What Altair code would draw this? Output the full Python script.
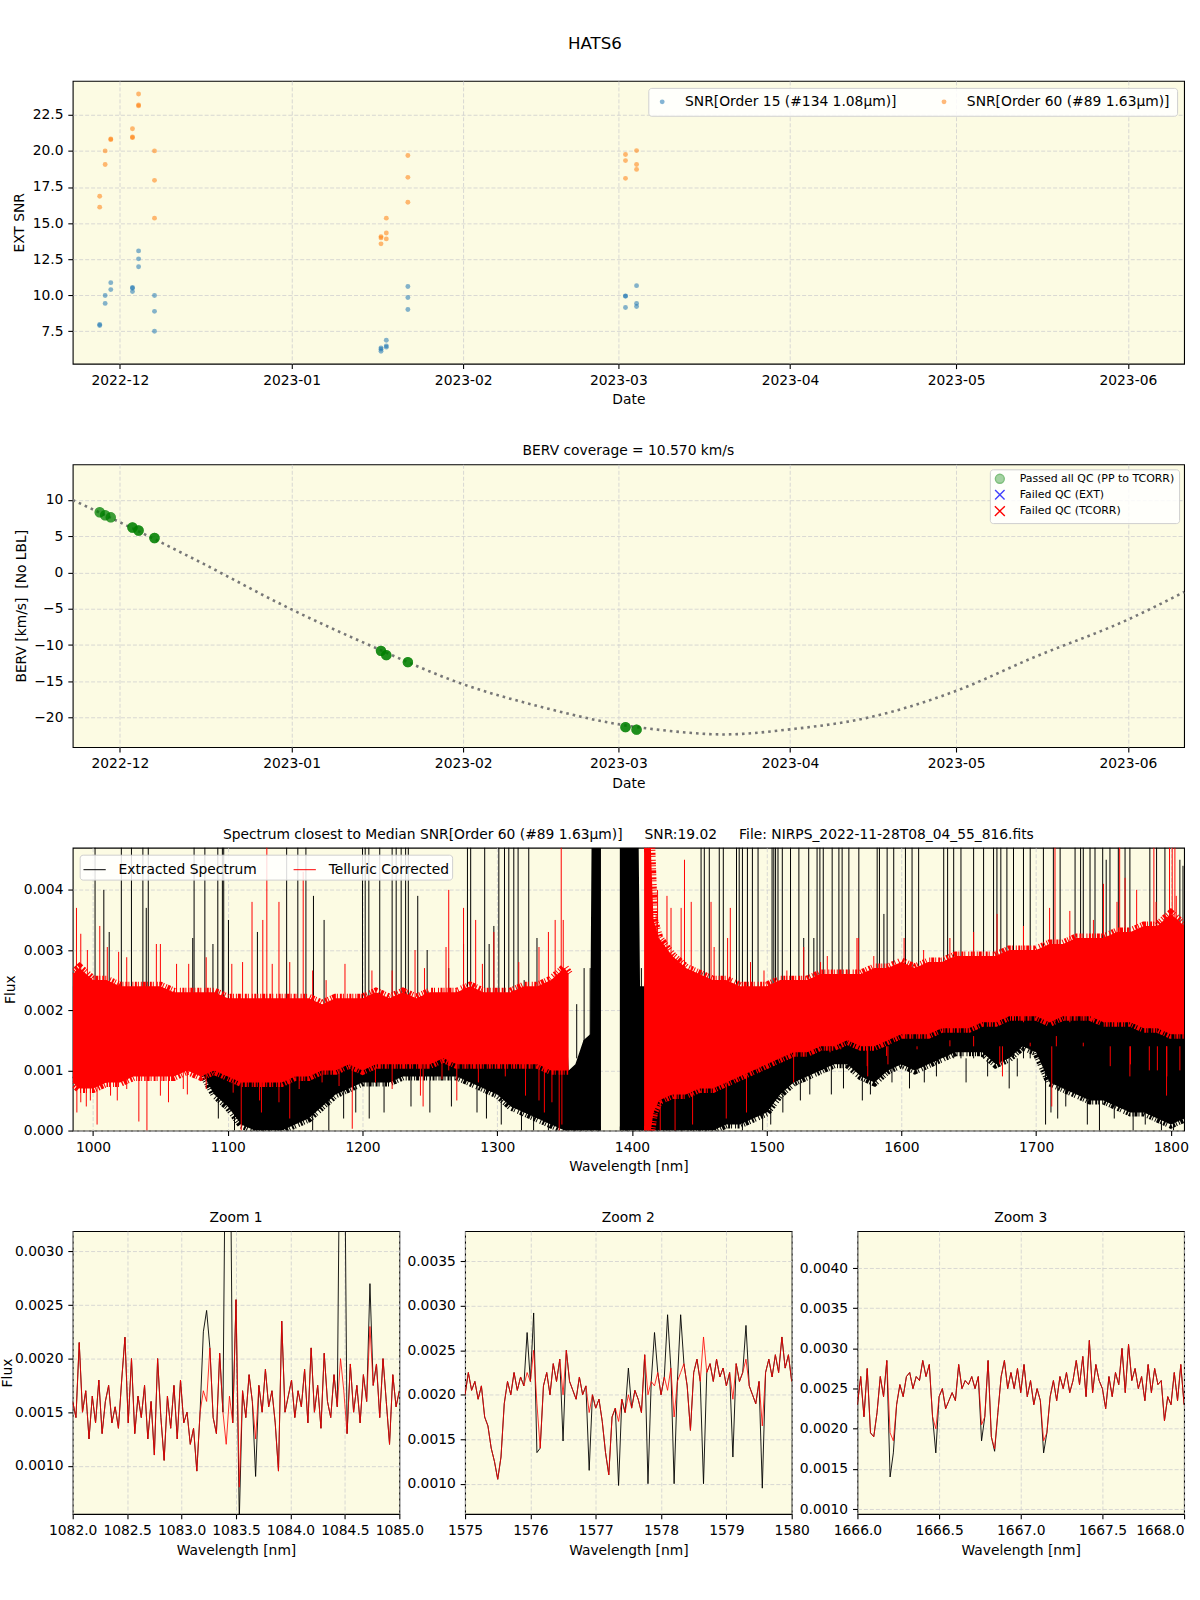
import altair as alt
import pandas as pd
import numpy as np

FONT = "DejaVu Sans"
BG = "#fcfbe3"
TOP = 0.005  # values above the axis top (clipped)
NB = "\u00a0"

# ---------------- Panel 1 / 2 : observations ----------------
obs_dates = (
    ["2022-11-27T08:30:00Z"] * 2 + ["2022-11-28T08:05:00Z"] * 2 + ["2022-11-29T08:30:00Z"] * 2
    + ["2022-12-03T06:30:00Z"] * 3 + ["2022-12-04T09:00:00Z"] * 3 + ["2022-12-07T06:00:00Z"] * 3
    + ["2023-01-17T03:30:00Z"] * 3 + ["2023-01-18T02:30:00Z"] * 3 + ["2023-01-22T00:00:00Z"] * 3
    + ["2023-03-02T07:00:00Z"] * 3 + ["2023-03-04T07:00:00Z"] * 3
)
snr_order15 = [7.97, 7.90, 9.98, 9.43, 10.87, 10.39,
               10.53, 10.48, 10.25, 13.07, 12.52, 11.97, 9.98, 8.88, 7.50,
               6.35, 6.26, 6.12, 6.88, 6.49, 6.40, 10.60, 9.84, 9.01,
               9.95, 9.93, 9.15, 10.66, 9.43, 9.22]
snr_order60 = [16.86, 16.10, 20.00, 19.06, 20.83, 20.78,
               21.54, 20.96, 20.92, 23.94, 23.19, 23.12, 20.00, 17.96, 15.34,
               14.06, 13.97, 13.56, 15.34, 14.31, 13.90, 19.68, 18.17, 16.44,
               19.75, 19.33, 18.10, 20.02, 19.06, 18.72]
berv_obs = [8.27, 8.27, 7.86, 7.86, 7.58, 7.58,
            6.17, 6.17, 6.17, 5.76, 5.76, 5.76, 4.73, 4.73, 4.73,
            -10.80, -10.80, -10.80, -11.39, -11.39, -11.39, -12.35, -12.35, -12.35,
            -21.30, -21.30, -21.30, -21.64, -21.64, -21.64]

berv_curve_dates = ["2022-11-22T12:00:00Z", "2022-12-01T00:00:00Z", "2022-12-15T00:00:00Z",
                    "2023-01-01T00:00:00Z", "2023-01-15T00:00:00Z", "2023-02-01T00:00:00Z",
                    "2023-02-15T00:00:00Z", "2023-03-01T00:00:00Z", "2023-03-10T00:00:00Z",
                    "2023-03-20T00:00:00Z", "2023-04-01T00:00:00Z", "2023-04-15T00:00:00Z",
                    "2023-05-01T00:00:00Z", "2023-05-15T00:00:00Z", "2023-06-01T00:00:00Z",
                    "2023-06-11T04:00:00Z"]
berv_curve = [9.95, 6.9, 1.6, -5.1, -10.0, -15.4, -18.5, -20.9, -21.8,
              -22.3, -21.6, -20.0, -16.3, -11.7, -6.5, -2.7]

LABEL15 = "SNR[Order 15 (#134 1.08μm)]"
LABEL60 = "SNR[Order 60 (#89 1.63μm)]"
QC_LABELS = ["Passed all QC (PP to TCORR)", "Failed QC (EXT)", "Failed QC (TCORR)"]

# ---------------- Panel 3 : full spectrum (envelopes) ----------------
red_wl_a = [985, 990, 1000, 1010, 1020, 1030, 1040, 1050, 1060, 1070, 1080, 1090, 1100, 1110, 1120,
            1130, 1140, 1150, 1160, 1170, 1180, 1190, 1200, 1210, 1220, 1230, 1240, 1250, 1260, 1270,
            1280, 1290, 1300, 1310, 1320, 1330, 1340, 1350, 1353]
red_lo_a = [0.0008, 0.0007, 0.0007, 0.0008, 0.0008, 0.0009, 0.0009, 0.0009, 0.0009, 0.0010, 0.0009,
            0.0010, 0.0009, 0.0008, 0.0008, 0.0008, 0.0008, 0.0009, 0.0009, 0.0010, 0.0010, 0.0011,
            0.0010, 0.0011, 0.0011, 0.0011, 0.0011, 0.0011, 0.0012, 0.0011, 0.0011, 0.0011, 0.0011,
            0.0011, 0.0011, 0.0011, 0.0010, 0.0010, 0.0010]
red_hi_a = [0.0026, 0.0027, 0.0025, 0.0025, 0.0024, 0.0024, 0.0024, 0.0024, 0.0023, 0.0023, 0.0023,
            0.0023, 0.0022, 0.0022, 0.0022, 0.0022, 0.0022, 0.0022, 0.0022, 0.0021, 0.0022, 0.0022,
            0.0022, 0.0023, 0.0022, 0.0023, 0.0022, 0.0023, 0.0023, 0.0023, 0.0024, 0.0023, 0.0023,
            0.0023, 0.0024, 0.0024, 0.0025, 0.0027, 0.0026]
red_wl_b = [1409, 1414, 1416, 1420, 1430, 1440, 1450, 1460, 1470, 1480, 1490, 1500, 1510, 1520, 1530,
            1540, 1550, 1560, 1570, 1580, 1590, 1600, 1610, 1620, 1630, 1640, 1650, 1660, 1670, 1680,
            1690, 1700, 1710, 1720, 1730, 1740, 1750, 1760, 1770, 1780, 1790, 1800, 1810]
red_lo_b = [0.0, 0.0, 0.0003, 0.0005, 0.0006, 0.0006, 0.0007, 0.0007, 0.0008, 0.0009, 0.0010, 0.0011,
            0.0012, 0.0013, 0.0013, 0.0014, 0.0014, 0.0015, 0.0014, 0.0014, 0.0015, 0.0016, 0.0016,
            0.0016, 0.0017, 0.0017, 0.0017, 0.0018, 0.0018, 0.0019, 0.0019, 0.0019, 0.0018, 0.0019,
            0.0019, 0.0019, 0.0018, 0.0018, 0.0018, 0.0017, 0.0017, 0.0016, 0.0016]
red_hi_b = [0.0047, 0.0047, 0.0035, 0.0032, 0.0029, 0.0027, 0.0026, 0.0025, 0.0025, 0.0024, 0.0024,
            0.0024, 0.0025, 0.0025, 0.0025, 0.0026, 0.0026, 0.0026, 0.0026, 0.0027, 0.0027, 0.0028,
            0.0027, 0.0028, 0.0028, 0.0029, 0.0029, 0.0029, 0.0029, 0.0030, 0.0030, 0.0030, 0.0031,
            0.0031, 0.0032, 0.0032, 0.0032, 0.0033, 0.0033, 0.0034, 0.0034, 0.0036, 0.0034]

black_wl_a = red_wl_a + [1358, 1364, 1369, 1370, 1377]
black_lo_a = [0.0009, 0.0008, 0.0008, 0.0009, 0.0009, 0.0010, 0.0010, 0.0010, 0.0010, 0.0011, 0.0010,
              0.0006, 0.0004, 0.0001, 0.0, 0.0, 0.0, 0.0001, 0.0002, 0.0004, 0.0006, 0.0007, 0.0008,
              0.0008, 0.0008, 0.0009, 0.0009, 0.0009, 0.0009, 0.0009, 0.0008, 0.0007, 0.0006, 0.0004,
              0.0003, 0.0002, 0.0001, 0.0, 0.0,
              0.0, 0.0, 0.0, 0.0, 0.0]
black_hi_a = [0.0024, 0.0025, 0.0023, 0.0023, 0.0022, 0.0022, 0.0022, 0.0022, 0.0021, 0.0021, 0.0021,
              0.0021, 0.0020, 0.0020, 0.0020, 0.0020, 0.0020, 0.0020, 0.0020, 0.0019, 0.0020, 0.0020,
              0.0020, 0.0021, 0.0020, 0.0021, 0.0020, 0.0021, 0.0021, 0.0021, 0.0022, 0.0021, 0.0021,
              0.0021, 0.0022, 0.0022, 0.0023, 0.0025, 0.0010,
              0.0011, 0.0015, 0.0016, 0.0047, 0.0047]
black_wl_b = [1391, 1405, 1406, 1409, 1414, 1420, 1430, 1440, 1450, 1460, 1470, 1480, 1490, 1500, 1510,
              1520, 1530, 1540, 1550, 1560, 1570, 1580, 1590, 1600, 1610, 1620, 1630, 1640, 1650, 1660,
              1670, 1680, 1690, 1700, 1710, 1720, 1730, 1740, 1750, 1760, 1770, 1780, 1790, 1800, 1810]
black_lo_b = [0.0, 0.0, 0.0, 0.0, 0.0, 0.0, 0.0, 0.0, 0.0, 0.0, 0.0001, 0.0001, 0.0002, 0.0003, 0.0006,
              0.0008, 0.0009, 0.0010, 0.0011, 0.0011, 0.0009, 0.0008, 0.0010, 0.0011, 0.0010, 0.0011,
              0.0012, 0.0013, 0.0013, 0.0013, 0.0011, 0.0012, 0.0014, 0.0013, 0.0008, 0.0007, 0.0006,
              0.0005, 0.0005, 0.0004, 0.0003, 0.0003, 0.0002, 0.0001, 0.0002]
black_hi_b = [0.0047, 0.0047, 0.0024, 0.0024, 0.0030, 0.0030, 0.0027, 0.0025, 0.0024, 0.0023, 0.0023,
              0.0022, 0.0022, 0.0022, 0.0023, 0.0023, 0.0023, 0.0024, 0.0024, 0.0024, 0.0024, 0.0025,
              0.0025, 0.0026, 0.0025, 0.0026, 0.0026, 0.0027, 0.0027, 0.0027, 0.0027, 0.0028, 0.0028,
              0.0028, 0.0029, 0.0029, 0.0030, 0.0030, 0.0030, 0.0031, 0.0031, 0.0032, 0.0032, 0.0034,
              0.0032]

black_spike_wl = [1001.5, 1008, 1012, 1021, 1028.5, 1037, 1039.5, 1041, 1074, 1075, 1083, 1089, 1092.6,
                  1096, 1097, 1100.5, 1122, 1143.7, 1152, 1158, 1163.6, 1171.5, 1200, 1202, 1204.7,
                  1212.8, 1222, 1225, 1228.7, 1232, 1234, 1241, 1248, 1264, 1275, 1277.9, 1280.3,
                  1290.7, 1294, 1297.5, 1301.2, 1305.4, 1308.6, 1312.3, 1315.5, 1320, 1323.4, 1329.5,
                  1359, 1364.5, 1369, 1407, 1451.3, 1453.7, 1457.4, 1464.8, 1467.8, 1477.6, 1479.6,
                  1482, 1485.7, 1489.4, 1493.6, 1504, 1505.3, 1506.6, 1508.4, 1511.6, 1517.7, 1523.9,
                  1527.5, 1531.2, 1535, 1537.4, 1539.5, 1542, 1548.6, 1553.6, 1556, 1561, 1568.4, 1582,
                  1583.7, 1587, 1589.4, 1594.3, 1603, 1607.9, 1612.8, 1631.4, 1634.3, 1638.8, 1644.2,
                  1653.6, 1661, 1668.4, 1670.9, 1673.8, 1678.3, 1683.2, 1690.6, 1695.6, 1705.4, 1712.8,
                  1717.8, 1728.9, 1733, 1735, 1740, 1743.7, 1749.4, 1752, 1754.8, 1761, 1766, 1769.6,
                  1784.4, 1789.4, 1795.6, 1806.7, 1809]
black_spike_top = [TOP, 0.0040, 0.0033, TOP, TOP, TOP, 0.0037, TOP, 0.0032, TOP, TOP, 0.0031, TOP,
                   TOP, TOP, 0.0035, 0.0033, TOP, TOP, TOP, 0.0039, 0.0035, TOP, TOP, TOP,
                   TOP, TOP, TOP, TOP, TOP, TOP, 0.0039, 0.0030, 0.0027, 0.0031, TOP, TOP,
                   TOP, 0.0031, 0.0034, TOP, TOP, TOP, TOP, TOP, 0.0025, TOP, 0.0032,
                   0.0021, 0.0027, 0.0027, 0.0027, TOP, TOP, TOP, TOP, TOP, TOP, TOP,
                   TOP, TOP, TOP, TOP, TOP, TOP, TOP, TOP, TOP, TOP, TOP,
                   0.0032, TOP, 0.0032, TOP, TOP, TOP, TOP, TOP, TOP, TOP, TOP, TOP,
                   TOP, 0.0036, TOP, TOP, TOP, TOP, TOP, TOP, TOP, TOP, TOP,
                   TOP, TOP, TOP, TOP, TOP, TOP, TOP, TOP, TOP, TOP, TOP,
                   TOP, TOP, TOP, TOP, TOP, TOP, TOP, 0.0045, TOP, TOP, TOP, TOP,
                   TOP, TOP, TOP, 0.0045, 0.0044]
black_dip_wl = [1093, 1105, 1163, 1175, 1186, 1195, 1205, 1216, 1236, 1250, 1266, 1285, 1292, 1303, 1318,
                1327, 1338, 1482, 1497, 1503, 1512, 1525, 1532, 1548, 1557, 1571, 1577, 1593, 1606, 1617,
                1626, 1648, 1664, 1680, 1686, 1707, 1711, 1716, 1722, 1738, 1747, 1758, 1772, 1781, 1793,
                1802]
black_dip_low = [0.0002, 0.0, 0.0, 0.0, 0.0002, 0.0003, 0.0002, 0.0003, 0.0004, 0.0003, 0.0004, 0.0003,
                 0.0002, 0.0001, 0.0, 0.0, 0.0, 0.0, 0.0, 0.0001, 0.0003, 0.0005, 0.0006, 0.0006, 0.0007,
                 0.0005, 0.0006, 0.0008, 0.0007, 0.0008, 0.0009, 0.0008, 0.0009, 0.0007, 0.0009, 0.0001,
                 0.0003, 0.0002, 0.0004, 0.0001, 0.0, 0.0002, 0.0, 0.0001, 0.0, 0.0]
red_up_wl = [987.7, 1005, 1050, 1118, 1126, 1129, 1138, 1156, 1264, 1275, 1284, 1343, 1347.5, 1349,
             1418, 1426, 1429, 1439, 1444, 1458.7, 1473, 1567, 1714, 1750, 1762, 1766, 1787.4, 1799,
             1801, 1803]
red_up_top = [0.0037, 0.0034, 0.0031, 0.0038, 0.0035, TOP, 0.0038, 0.0043, 0.0040, 0.0037, 0.0035,
              0.0035, TOP, 0.0035, 0.0036, 0.0039, 0.0037, 0.0045, 0.0038, 0.0038, 0.0037, 0.0032,
              TOP, 0.0041, TOP, 0.0042, TOP, TOP, TOP, TOP]
red_fuzz_up_wl = [990.9, 995.8, 1010.6, 1019, 1025, 1047, 1062, 1071, 1084, 1103, 1111, 1133, 1146,
                  1163, 1173, 1187, 1207, 1222, 1239, 1246, 1262, 1289, 1297.5, 1316, 1331, 1338,
                  1419, 1436.5, 1461, 1471, 1488, 1498, 1515, 1527.5, 1540, 1545, 1568, 1579.5, 1602,
                  1616.5, 1636, 1653.6, 1671, 1690.6, 1710, 1725, 1742.5, 1760, 1774.6, 1789, 1804]
red_fuzz_up_top = [0.00327, 0.0030, 0.00305, 0.00297, 0.00288, 0.0031, 0.00277, 0.00277, 0.00288,
                   0.00277, 0.0028, 0.00277, 0.0028, 0.00266, 0.0025, 0.00277, 0.00266, 0.00266,
                   0.0030, 0.0027, 0.00305, 0.00277, 0.0033, 0.0028, 0.00305, 0.0033,
                   0.0040, 0.0037, 0.00305, 0.0032, 0.0028, 0.00266, 0.00266, 0.00305, 0.0028,
                   0.0029, 0.0032, 0.0029, 0.0032, 0.0030, 0.0032, 0.0033, 0.0036, 0.0034, 0.0037,
                   0.00365, 0.0035, 0.0038, 0.0040, 0.0038, 0.0039]
red_dip_wl = [988, 995, 1003, 1018, 1034, 1040, 1056, 1070, 1110, 1125, 1146, 1192.4, 1245, 1270, 1335,
              1346, 1348, 1421, 1432, 1445, 1470, 1485, 1520, 1575, 1590, 1675, 1711.6, 1770, 1790, 1797]
red_dip_low = [0.0003, 0.0004, 0.0001, 0.0005, 0.00015, 0.0, 0.00047, 0.0006, 0.0, 0.0003, 0.0002,
               0.00003, 0.0004, 0.0005, 0.0003, 0.0, 0.0001, 0.0, 0.0, 0.0001, 0.0002, 0.0003, 0.0008,
               0.0009, 0.0011, 0.0009, 0.0004, 0.0011, 0.0010, 0.0009]
red_fuzz_dn_wl = [990.9, 998, 1013, 1025, 1050, 1067, 1084, 1104, 1123.6, 1138, 1153, 1170, 1182.6,
                  1209.6, 1222, 1243, 1259, 1264, 1286, 1306, 1321, 1331, 1340.6, 1547, 1555, 1574.6,
                  1589, 1611.6, 1636, 1653.6, 1673, 1695.6, 1715, 1735, 1755, 1769.6, 1784, 1796.8, 1806.7]
red_fuzz_dn_low = [0.00047, 0.0005, 0.00058, 0.00069, 0.00058, 0.00069, 0.00069, 0.00063, 0.0005,
                   0.00047, 0.00069, 0.0008, 0.00074, 0.0008, 0.00069, 0.00058, 0.00085, 0.0010, 0.0008,
                   0.0009, 0.00058, 0.0005, 0.00047, 0.0013, 0.00135, 0.00107, 0.00124, 0.00135, 0.0015,
                   0.00157, 0.0011, 0.00146, 0.00157, 0.00146, 0.00107, 0.0009, 0.0010, 0.00058, 0.0010]
SPIKE_BASE = 0.0012
DIP_BASE = 0.0014

# ---------------- Zoom panels ----------------
zoom1_range = (1082.0, 1085.0, 101)
zoom1_red = [0.00160, 0.00145, 0.00215, 0.00150, 0.00170, 0.00125, 0.00165, 0.00140, 0.00180, 0.00130,
             0.00160, 0.00175, 0.00140, 0.00155, 0.00135, 0.00180, 0.00220, 0.00140, 0.00200, 0.00130,
             0.00165, 0.00145, 0.00175, 0.00125, 0.00160, 0.00110, 0.00200, 0.00145, 0.00105, 0.00165,
             0.00135, 0.00175, 0.00125, 0.00180, 0.00140, 0.00150, 0.00120, 0.00135, 0.00095, 0.00150,
             0.00170, 0.00160, 0.00210, 0.00145, 0.00130, 0.00205, 0.00150, 0.00120, 0.00165, 0.00140,
             0.00255, 0.00080, 0.00170, 0.00145, 0.00185, 0.00160, 0.00125, 0.00175, 0.00150, 0.00190,
             0.00155, 0.00170, 0.00140, 0.00095, 0.00235, 0.00150, 0.00165, 0.00180, 0.00145, 0.00170,
             0.00155, 0.00190, 0.00140, 0.00210, 0.00150, 0.00175, 0.00135, 0.00205, 0.00160, 0.00145,
             0.00185, 0.00155, 0.00200, 0.00170, 0.00130, 0.00195, 0.00150, 0.00175, 0.00140, 0.00185,
             0.00160, 0.00230, 0.00175, 0.00195, 0.00145, 0.00200, 0.00160, 0.00120, 0.00185, 0.00155,
             0.00170]
zoom1_black = [0.00160, 0.00145, 0.00215, 0.00150, 0.00170, 0.00125, 0.00165, 0.00140, 0.00180, 0.00130,
               0.00160, 0.00175, 0.00140, 0.00155, 0.00135, 0.00180, 0.00220, 0.00140, 0.00200, 0.00130,
               0.00165, 0.00145, 0.00175, 0.00125, 0.00160, 0.00110, 0.00200, 0.00145, 0.00105, 0.00165,
               0.00135, 0.00175, 0.00125, 0.00180, 0.00140, 0.00150, 0.00120, 0.00135, 0.00095, 0.00150,
               0.00225, 0.00245, 0.00210, 0.00145, 0.00130, 0.00205, 0.00150, 0.00500, 0.00500, 0.00140,
               0.00255, 0.00050, 0.00170, 0.00145, 0.00185, 0.00160, 0.00090, 0.00175, 0.00150, 0.00190,
               0.00155, 0.00170, 0.00140, 0.00095, 0.00235, 0.00150, 0.00165, 0.00180, 0.00145, 0.00170,
               0.00155, 0.00190, 0.00140, 0.00210, 0.00150, 0.00175, 0.00135, 0.00205, 0.00160, 0.00145,
               0.00185, 0.00155, 0.00500, 0.00500, 0.00130, 0.00195, 0.00150, 0.00175, 0.00140, 0.00185,
               0.00160, 0.00270, 0.00175, 0.00195, 0.00145, 0.00200, 0.00160, 0.00120, 0.00185, 0.00155,
               0.00170]
zoom2_range = (1575.0, 1580.0, 101)
zoom2_red = [0.00200, 0.00225, 0.00205, 0.00215, 0.00195, 0.00210, 0.00175, 0.00165, 0.00140, 0.00125,
             0.00105, 0.00130, 0.00190, 0.00215, 0.00200, 0.00225, 0.00205, 0.00220, 0.00210, 0.00225,
             0.00215, 0.00250, 0.00190, 0.00140, 0.00210, 0.00225, 0.00200, 0.00235, 0.00215, 0.00240,
             0.00200, 0.00250, 0.00215, 0.00205, 0.00195, 0.00220, 0.00200, 0.00210, 0.00180, 0.00200,
             0.00185, 0.00195, 0.00170, 0.00135, 0.00110, 0.00175, 0.00185, 0.00170, 0.00195, 0.00180,
             0.00200, 0.00185, 0.00205, 0.00195, 0.00180, 0.00245, 0.00200, 0.00215, 0.00210, 0.00225,
             0.00200, 0.00220, 0.00205, 0.00230, 0.00175, 0.00215, 0.00225, 0.00235, 0.00210, 0.00160,
             0.00225, 0.00240, 0.00215, 0.00265, 0.00225, 0.00235, 0.00215, 0.00240, 0.00220, 0.00230,
             0.00210, 0.00225, 0.00195, 0.00235, 0.00215, 0.00225, 0.00240, 0.00210, 0.00200, 0.00190,
             0.00215, 0.00165, 0.00225, 0.00240, 0.00220, 0.00245, 0.00225, 0.00265, 0.00230, 0.00245,
             0.00215]
zoom2_black = [0.00200, 0.00225, 0.00205, 0.00215, 0.00195, 0.00210, 0.00175, 0.00165, 0.00140, 0.00125,
               0.00105, 0.00130, 0.00190, 0.00215, 0.00200, 0.00225, 0.00205, 0.00220, 0.00210, 0.00270,
               0.00215, 0.00292, 0.00135, 0.00140, 0.00210, 0.00225, 0.00200, 0.00235, 0.00215, 0.00240,
               0.00148, 0.00250, 0.00215, 0.00205, 0.00195, 0.00220, 0.00200, 0.00210, 0.00115, 0.00200,
               0.00185, 0.00195, 0.00170, 0.00135, 0.00110, 0.00175, 0.00185, 0.00098, 0.00195, 0.00180,
               0.00230, 0.00185, 0.00205, 0.00195, 0.00180, 0.00245, 0.00100, 0.00215, 0.00270, 0.00225,
               0.00200, 0.00220, 0.00290, 0.00230, 0.00100, 0.00215, 0.00290, 0.00235, 0.00210, 0.00160,
               0.00225, 0.00240, 0.00215, 0.00100, 0.00225, 0.00235, 0.00215, 0.00240, 0.00220, 0.00230,
               0.00210, 0.00225, 0.00130, 0.00235, 0.00215, 0.00225, 0.00278, 0.00210, 0.00200, 0.00190,
               0.00215, 0.00095, 0.00225, 0.00240, 0.00220, 0.00245, 0.00225, 0.00265, 0.00230, 0.00245,
               0.00215]
zoom3_range = (1666.0, 1668.0, 101)
zoom3_red = [0.00230, 0.00265, 0.00215, 0.00275, 0.00195, 0.00190, 0.00220, 0.00265, 0.00240, 0.00285,
             0.00195, 0.00185, 0.00230, 0.00255, 0.00240, 0.00265, 0.00270, 0.00250, 0.00265, 0.00260,
             0.00285, 0.00265, 0.00280, 0.00215, 0.00200, 0.00240, 0.00250, 0.00225, 0.00235, 0.00245,
             0.00235, 0.00280, 0.00250, 0.00260, 0.00255, 0.00265, 0.00250, 0.00265, 0.00205, 0.00215,
             0.00285, 0.00190, 0.00175, 0.00220, 0.00265, 0.00285, 0.00250, 0.00270, 0.00250, 0.00275,
             0.00245, 0.00280, 0.00240, 0.00260, 0.00230, 0.00250, 0.00235, 0.00185, 0.00195, 0.00240,
             0.00260, 0.00235, 0.00265, 0.00250, 0.00270, 0.00245, 0.00260, 0.00285, 0.00255, 0.00290,
             0.00240, 0.00310, 0.00245, 0.00280, 0.00260, 0.00250, 0.00225, 0.00265, 0.00240, 0.00270,
             0.00255, 0.00300, 0.00245, 0.00305, 0.00260, 0.00275, 0.00250, 0.00265, 0.00235, 0.00280,
             0.00245, 0.00275, 0.00255, 0.00260, 0.00210, 0.00240, 0.00230, 0.00270, 0.00235, 0.00280,
             0.00230]
zoom3_black = [0.00230, 0.00265, 0.00215, 0.00275, 0.00195, 0.00190, 0.00220, 0.00265, 0.00240, 0.00285,
               0.00140, 0.00170, 0.00230, 0.00255, 0.00240, 0.00265, 0.00270, 0.00250, 0.00265, 0.00260,
               0.00285, 0.00265, 0.00280, 0.00215, 0.00170, 0.00240, 0.00250, 0.00225, 0.00235, 0.00245,
               0.00235, 0.00280, 0.00250, 0.00260, 0.00255, 0.00265, 0.00250, 0.00265, 0.00185, 0.00215,
               0.00285, 0.00190, 0.00172, 0.00220, 0.00265, 0.00285, 0.00250, 0.00270, 0.00250, 0.00275,
               0.00245, 0.00280, 0.00240, 0.00260, 0.00230, 0.00250, 0.00235, 0.00170, 0.00195, 0.00240,
               0.00260, 0.00235, 0.00265, 0.00250, 0.00270, 0.00245, 0.00260, 0.00285, 0.00255, 0.00290,
               0.00240, 0.00310, 0.00245, 0.00280, 0.00260, 0.00250, 0.00225, 0.00265, 0.00240, 0.00270,
               0.00255, 0.00300, 0.00245, 0.00305, 0.00260, 0.00275, 0.00250, 0.00265, 0.00235, 0.00280,
               0.00245, 0.00275, 0.00255, 0.00260, 0.00210, 0.00240, 0.00230, 0.00270, 0.00235, 0.00280,
               0.00230]

# ---------------- helpers ----------------
W, H = 1116, 284
ZW, ZH = 328, 284
LBL = 13.9
FUZZ_DASH = [1, 2, 1, 1, 3, 1, 1, 2, 2, 1, 1, 3, 1, 1.5, 2, 1]


def dt(y, m, d, h=0, mi=0):
    return alt.DateTime(year=y, month=m, date=d, hours=h, minutes=mi, utc=True)


date_domain = [dt(2022, 11, 22, 11, 30), dt(2023, 6, 11, 3, 36)]
month_ticks = [dt(2022, 12, 1), dt(2023, 1, 1), dt(2023, 2, 1), dt(2023, 3, 1),
               dt(2023, 4, 1), dt(2023, 5, 1), dt(2023, 6, 1)]


def date_x():
    return alt.X("date:T", scale=alt.Scale(type="utc", domain=date_domain),
                 axis=alt.Axis(title="Date", format="%Y-%m", values=month_ticks))


def sub_title(text):
    return alt.TitleParams(text=text, fontSize=LBL, font=FONT, fontWeight="normal",
                           anchor="middle", offset=6, color="black")


# ---------------- Panel 1 ----------------
n = len(obs_dates)
snr_df = pd.DataFrame({
    "date": obs_dates * 2,
    "snr": snr_order15 + snr_order60,
    "series": [LABEL15] * n + [LABEL60] * n,
})
c1 = alt.Chart(snr_df).mark_circle(size=24, opacity=0.55).encode(
    x=date_x(),
    y=alt.Y("snr:Q", scale=alt.Scale(domain=[5.25, 24.85], nice=False, zero=False),
            axis=alt.Axis(title="EXT SNR", values=[7.5, 10, 12.5, 15, 17.5, 20, 22.5], format=".1f")),
    color=alt.Color("series:N", scale=alt.Scale(domain=[LABEL15, LABEL60], range=["#1f77b4", "#ff7f0e"]),
                    legend=alt.Legend(title=None, orient="top-right", offset=7, columns=2,
                                      columnPadding=40, labelFontSize=LBL, symbolType="circle",
                                      symbolSize=24, symbolOpacity=0.55, labelOffset=16, labelLimit=600,
                                      fillColor="rgba(255,255,255,0.85)", strokeColor="#d0d0d0",
                                      cornerRadius=3, padding=7)),
).properties(width=W, height=H)

# ---------------- Panel 2 ----------------
XPATH = "M -1 -1 L 1 1 M -1 1 L 1 -1"
berv_df = pd.DataFrame({"date": obs_dates, "berv": berv_obs, "status": QC_LABELS[0]})
curve_df = pd.DataFrame({"date": berv_curve_dates, "berv": berv_curve})
curve = alt.Chart(curve_df).mark_line(color="#777777", strokeWidth=2.6, strokeDash=[2.6, 4.0],
                                      interpolate="monotone").encode(
    x=date_x(),
    y=alt.Y("berv:Q", scale=alt.Scale(domain=[-24.05, 14.87], nice=False, zero=False),
            axis=alt.Axis(title="BERV [km/s]" + NB * 2 + "[No LBL]", values=[-20, -15, -10, -5, 0, 5, 10],
                          labelExpr="datum.value < 0 ? '\u2212' + format(-datum.value, 'd') : format(datum.value, 'd')")),
)
qc_legend = alt.Legend(title=None, orient="top-right", offset=5, labelFontSize=11, symbolStrokeWidth=1.4,
                       fillColor="rgba(255,255,255,0.85)", strokeColor="#d0d0d0", cornerRadius=3,
                       padding=4, rowPadding=0, labelOffset=14, labelLimit=600)
pts = alt.Chart(berv_df).mark_point(filled=False, strokeWidth=1.5).encode(
    x="date:T",
    y="berv:Q",
    stroke=alt.Stroke("status:N", scale=alt.Scale(domain=QC_LABELS, range=["green", "blue", "red"]),
                      legend=qc_legend),
    fill=alt.Fill("status:N", scale=alt.Scale(domain=QC_LABELS, range=["green", "transparent", "transparent"]),
                  legend=qc_legend),
    shape=alt.Shape("status:N", scale=alt.Scale(domain=QC_LABELS, range=["circle", XPATH, XPATH]),
                    legend=qc_legend),
    opacity=alt.Opacity("status:N", scale=alt.Scale(domain=QC_LABELS, range=[0.5, 1.0, 1.0]),
                        legend=qc_legend),
    size=alt.Size("status:N", scale=alt.Scale(domain=QC_LABELS, range=[80, 100, 100]), legend=qc_legend),
)
c2 = alt.layer(curve, pts).properties(width=W, height=H, title=sub_title("BERV coverage = 10.570 km/s"))

# ---------------- Panel 3 ----------------
SERIES = ["Extracted Spectrum", "Telluric Corrected"]
red_area_df = pd.DataFrame({
    "wl": red_wl_a + red_wl_b, "lo": red_lo_a + red_lo_b, "hi": red_hi_a + red_hi_b,
    "seg": ["a"] * len(red_wl_a) + ["b"] * len(red_wl_b)})
black_area_df = pd.DataFrame({
    "wl": black_wl_a + black_wl_b, "lo": black_lo_a + black_lo_b, "hi": black_hi_a + black_hi_b,
    "seg": ["a"] * len(black_wl_a) + ["b"] * len(black_wl_b)})
bspk_df = pd.DataFrame({"wl": black_spike_wl, "top": black_spike_top, "base": SPIKE_BASE, "series": SERIES[0]})
bdip_df = pd.DataFrame({"wl": black_dip_wl, "low": black_dip_low, "base": SPIKE_BASE})
rspk_df = pd.DataFrame({"wl": red_up_wl + red_fuzz_up_wl, "top": red_up_top + red_fuzz_up_top,
                        "base": SPIKE_BASE + 0.0006, "series": SERIES[1]})
rdip_df = pd.DataFrame({"wl": red_dip_wl + red_fuzz_dn_wl, "low": red_dip_low + red_fuzz_dn_low,
                        "base": DIP_BASE})

sx = alt.Scale(domain=[984.9, 1809.8], nice=False, zero=False)
sy = alt.Scale(domain=[0, 0.0047], nice=False, zero=False)
spec_x_axis = alt.Axis(title="Wavelength [nm]", values=list(range(1000, 1801, 100)), format="d")
spec_y_axis = alt.Axis(title="Flux", values=[0, 0.001, 0.002, 0.003, 0.004], format=".3f")
col_scale = alt.Scale(domain=SERIES, range=["black", "red"])
spec_legend = alt.Legend(title=None, orient="top-left", offset=7, columns=2, columnPadding=34,
                         labelFontSize=LBL, symbolType="stroke", symbolSize=500, symbolStrokeWidth=1,
                         labelOffset=12, labelLimit=600, fillColor="rgba(255,255,255,0.85)",
                         strokeColor="#d0d0d0", cornerRadius=3, padding=3)

barea = alt.Chart(black_area_df).mark_area(color="black", clip=True).encode(
    x=alt.X("wl:Q", scale=sx, axis=spec_x_axis),
    y=alt.Y("lo:Q", scale=sy, axis=spec_y_axis), y2="hi:Q", detail="seg:N")
bfuzz = alt.Chart(black_area_df).mark_line(color="black", strokeWidth=8, strokeDash=FUZZ_DASH,
                                           clip=True).encode(x="wl:Q", y="lo:Q", detail="seg:N")
bspk = alt.Chart(bspk_df).mark_rule(strokeWidth=1, clip=True).encode(
    x="wl:Q", y="base:Q", y2="top:Q",
    color=alt.Color("series:N", scale=col_scale, legend=spec_legend))
bdip = alt.Chart(bdip_df).mark_rule(strokeWidth=1, color="black", clip=True).encode(
    x="wl:Q", y="base:Q", y2="low:Q")
rarea = alt.Chart(red_area_df).mark_area(color="red", clip=True).encode(
    x="wl:Q", y="lo:Q", y2="hi:Q", detail="seg:N")
rfuzz_hi = alt.Chart(red_area_df).mark_line(color="red", strokeWidth=9, strokeDash=FUZZ_DASH,
                                            clip=True).encode(x="wl:Q", y="hi:Q", detail="seg:N")
rfuzz_lo = alt.Chart(red_area_df).mark_line(color="red", strokeWidth=9, strokeDash=FUZZ_DASH[::-1],
                                            clip=True).encode(x="wl:Q", y="lo:Q", detail="seg:N")
rspk = alt.Chart(rspk_df).mark_rule(strokeWidth=1, clip=True).encode(
    x="wl:Q", y="base:Q", y2="top:Q",
    color=alt.Color("series:N", scale=col_scale, legend=spec_legend))
rdip = alt.Chart(rdip_df).mark_rule(strokeWidth=1, color="red", clip=True).encode(
    x="wl:Q", y="base:Q", y2="low:Q")
spec_title = ("Spectrum closest to Median SNR[Order 60 (#89 1.63μm)]" + NB * 5 + "SNR:19.02" + NB * 5
              + "File: NIRPS_2022-11-28T08_04_55_816.fits")
c3 = alt.layer(barea, bfuzz, bspk, bdip, rarea, rfuzz_hi, rfuzz_lo, rspk, rdip).properties(
    width=W, height=H, title=sub_title(spec_title))


# ---------------- Zooms ----------------
def zoom_chart(rng, red, black, title, ydom, yvals, xvals, xfmt, ytitle, last_right=False):
    wl = np.linspace(rng[0], rng[1], rng[2])
    df = pd.DataFrame({"wl": np.concatenate([wl, wl]), "flux": black + red,
                       "series": ["black"] * len(wl) + ["red"] * len(wl)})
    xs = alt.Scale(domain=[rng[0], rng[1]], nice=False, zero=False)
    ys = alt.Scale(domain=ydom, nice=False, zero=False)
    if ytitle:
        yax = alt.Axis(values=yvals, format=".4f", title=ytitle, titlePadding=0)
    else:
        yax = alt.Axis(values=yvals, format=".4f", title=None)
    if last_right:
        xax = alt.Axis(title="Wavelength [nm]", values=xvals, format=xfmt,
                       labelAlign={"condition": {"test": f"datum.value >= {rng[1] - 1e-6}", "value": "right"},
                                   "value": "center"})
    else:
        xax = alt.Axis(title="Wavelength [nm]", values=xvals, format=xfmt)
    base = alt.Chart(df).encode(x=alt.X("wl:Q", scale=xs, axis=xax), y=alt.Y("flux:Q", scale=ys, axis=yax))
    bl = base.transform_filter(alt.datum.series == "black").mark_line(color="black", strokeWidth=0.9,
                                                                       clip=True)
    rd = base.transform_filter(alt.datum.series == "red").mark_line(color="red", strokeWidth=0.9,
                                                                     opacity=0.9, clip=True)
    return alt.layer(bl, rd).properties(width=ZW, height=ZH, title=sub_title(title))


z1 = zoom_chart(zoom1_range, zoom1_red, zoom1_black, "Zoom 1", [0.00055, 0.00319],
                [0.0010, 0.0015, 0.0020, 0.0025, 0.0030],
                [1082.0, 1082.5, 1083.0, 1083.5, 1084.0, 1084.5, 1085.0], ".1f", "Flux")
z2 = zoom_chart(zoom2_range, zoom2_red, zoom2_black, "Zoom 2", [0.00066, 0.00384],
                [0.0010, 0.0015, 0.0020, 0.0025, 0.0030, 0.0035],
                [1575, 1576, 1577, 1578, 1579, 1580], "d", None)
z3 = zoom_chart(zoom3_range, zoom3_red, zoom3_black, "Zoom 3", [0.00094, 0.00446],
                [0.0010, 0.0015, 0.0020, 0.0025, 0.0030, 0.0035, 0.0040],
                [1666.0, 1666.5, 1667.0, 1667.5, 1668.0], ".1f", None, last_right=True)
zooms = alt.hconcat(z1, z2, z3, spacing=66, bounds="flush")

IND = "independent"
chart = alt.vconcat(c1, c2, c3, zooms, spacing=101, bounds="flush").resolve_scale(
    color=IND, stroke=IND, fill=IND, shape=IND, opacity=IND, size=IND
).resolve_legend(
    color=IND, stroke=IND, fill=IND, shape=IND, opacity=IND, size=IND
).properties(
    title=alt.TitleParams(text="HATS6", fontSize=16.7, font=FONT, fontWeight="normal",
                          anchor="middle", offset=28, color="black"),
    padding={"left": 0, "top": 32, "right": 10, "bottom": 5},
    background="white",
).configure_view(
    fill=BG, stroke="black", strokeWidth=1.1
).configure_axis(
    labelFont=FONT, labelFontSize=LBL, labelColor="black", titleFont=FONT, titleFontSize=LBL,
    titleFontWeight="normal", titleColor="black", tickColor="black", tickSize=4.9, tickWidth=1.1,
    labelPadding=4.9, titlePadding=5.6, domain=False, grid=True, gridColor="#cfcfcf",
    gridDash=[4, 2], gridWidth=0.8, labelFlush=False, labelOverlap=False
).configure_legend(
    labelFont=FONT, labelColor="black"
).configure_title(font=FONT)

chart.save("out.html", embed_options={"renderer": "svg", "actions": False})
